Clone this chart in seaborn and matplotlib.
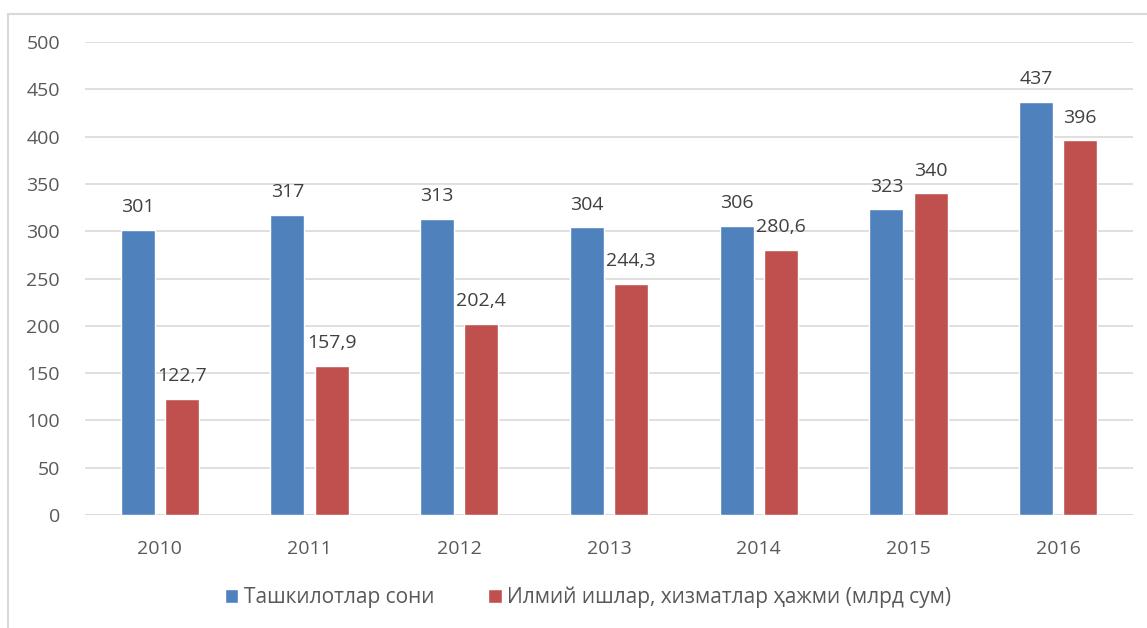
import matplotlib
matplotlib.use("Agg")
import matplotlib.pyplot as plt
import seaborn as sns
import pandas as pd
from matplotlib.patches import Rectangle

years = ["2010", "2011", "2012", "2013", "2014", "2015", "2016"]
series_names = ["Ташкилотлар сони", "Илмий ишлар, хизматлар ҳажми (млрд сум)"]
org_count = [301, 317, 313, 304, 306, 323, 437]
work_volume = [122.7, 157.9, 202.4, 244.3, 280.6, 340, 396]
y_ticks = [0, 50, 100, 150, 200, 250, 300, 350, 400, 450, 500]

df = pd.DataFrame({
    "year": years * 2,
    "series": [series_names[0]] * len(years) + [series_names[1]] * len(years),
    "value": org_count + work_volume,
})

sns.set_theme(style="white")
plt.rcParams["font.family"] = ["Open Sans", "DejaVu Sans"]

fig = plt.figure(figsize=(11.47, 6.28), dpi=100)
ax = fig.add_axes([0.0741, 0.180, 0.9137, 0.753])

palette = ["#4F81BD", "#C0504D"]
sns.barplot(data=df, x="year", y="value", hue="series", palette=palette,
            width=0.59, gap=0.23, ax=ax, legend=True, saturation=1)

ax.set_ylim(0, 500)
ax.set_yticks(y_ticks)
ax.set_xlim(-0.5, len(years) - 0.5)
ax.grid(axis="y", color="#d9d9d9", linewidth=1.2)
ax.set_axisbelow(True)
for s in ax.spines.values():
    s.set_visible(False)
ax.axhline(0, color="#d9d9d9", linewidth=1.2, zorder=0.5)
ax.set_xlabel("")
ax.set_ylabel("")
ax.tick_params(axis="both", length=0, colors="#595959", labelsize=14)
ax.tick_params(axis="x", pad=18)
ax.tick_params(axis="y", pad=18)

def fmt(v):
    s = ("%g" % v).replace(".", ",")
    return s

for cont in ax.containers:
    ax.bar_label(cont, labels=[fmt(b.get_height()) for b in cont],
                 padding=10, fontsize=14, color="#404040")

handles, labels = ax.get_legend_handles_labels()
ax.legend(handles, labels, loc="center", bbox_to_anchor=(0.48, -0.175),
          ncol=2, frameon=False, fontsize=15, labelcolor="#595959",
          handlelength=0.65, handleheight=0.65, handletextpad=0.25,
          columnspacing=2.6)

fig.patches.append(Rectangle((0.007, -0.1), 1.2, 0.978 + 0.1,
                             transform=fig.transFigure, fill=False,
                             edgecolor="#d9d9d9", linewidth=1.5))

fig.savefig("out.png", dpi=100)
